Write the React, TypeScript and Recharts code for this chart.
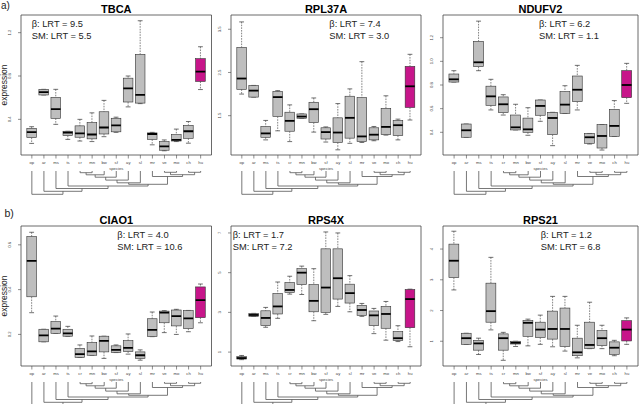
import React from 'react';
import { ComposedChart, Bar, XAxis, YAxis, ReferenceArea, ReferenceLine } from 'recharts';

// ---------- data ----------
const SPECIES = ['op', 'ar', 'ms', 'ts', 'cr', 'mn', 'bw', 'sf', 'ay', 'sl', 'mr', 've', 'mo', 'ch', 'hu'];
const HIGHLIGHT = 'hu';
const GENES = ['TBCA', 'RPL37A', 'NDUFV2', 'CIAO1', 'RPS4X', 'RPS21'];
const BETA_LRT = ['9.5', '7.4', '6.2', '4.0', '1.7', '1.2'];
const SM_LRT = ['5.5', '3.0', '1.1', '10.6', '7.2', '6.8'];

// five-number summaries [min, q1, median, q3, max] per species
const TBCA = [
  [0.178, 0.231, 0.283, 0.317, 0.332], [0.625, 0.625, 0.652, 0.677, 0.677], [0.354, 0.409, 0.495, 0.603, 0.677],
  [0.215, 0.25, 0.278, 0.29, 0.29], [0.2, 0.235, 0.27, 0.34, 0.4], [0.195, 0.22, 0.26, 0.37, 0.46],
  [0.24, 0.265, 0.325, 0.47, 0.575], [0.28, 0.285, 0.345, 0.41, 0.42], [0.515, 0.56, 0.685, 0.78, 0.8],
  [0.545, 0.55, 0.625, 1.0, 1.31], [0.165, 0.215, 0.265, 0.275, 0.28], [0.11, 0.115, 0.15, 0.195, 0.21],
  [0.195, 0.2, 0.21, 0.26, 0.31], [0.18, 0.225, 0.29, 0.345, 0.38], [0.675, 0.75, 0.84, 0.96, 1.07],
];
const RPL37A = [
  [2.0, 2.11, 2.36, 3.08, 3.67], [1.93, 1.93, 2.08, 2.2, 2.2], [0.94, 1.0, 1.09, 1.25, 1.39],
  [1.15, 1.48, 1.93, 2.06, 2.08], [0.9, 1.14, 1.38, 1.58, 1.75], [1.44, 1.44, 1.48, 1.54, 1.54],
  [1.12, 1.34, 1.65, 1.81, 1.91], [0.89, 0.96, 1.12, 1.22, 1.24], [0.71, 0.88, 1.11, 1.45, 1.78],
  [0.86, 0.98, 1.45, 1.95, 2.12], [0.88, 0.9, 1.02, 1.92, 2.75], [0.92, 0.94, 1.06, 1.22, 1.25],
  [1.05, 1.06, 1.24, 1.67, 1.96], [0.94, 1.04, 1.28, 1.39, 1.42], [1.4, 1.69, 2.18, 2.64, 2.92],
];
const NDUFV2 = [
  [0.825, 0.825, 0.848, 0.893, 0.921], [0.358, 0.358, 0.417, 0.47, 0.47], [0.921, 0.955, 0.992, 1.169, 1.34],
  [0.589, 0.628, 0.704, 0.79, 0.848], [0.546, 0.566, 0.637, 0.699, 0.718], [0.42, 0.42, 0.442, 0.546, 0.637],
  [0.375, 0.4, 0.425, 0.52, 0.608], [0.493, 0.544, 0.623, 0.673, 0.673], [0.287, 0.38, 0.521, 0.569, 0.569],
  [0.56, 0.56, 0.634, 0.744, 0.794], [0.589, 0.659, 0.76, 0.876, 0.966], [0.301, 0.307, 0.358, 0.39, 0.39],
  [0.25, 0.267, 0.369, 0.465, 0.465], [0.366, 0.366, 0.454, 0.594, 0.668], [0.645, 0.693, 0.8, 0.921, 0.983],
];
const CIAO1 = [
  [0.297, 0.368, 0.528, 0.637, 0.656], [0.167, 0.167, 0.196, 0.223, 0.223], [0.205, 0.205, 0.226, 0.257, 0.282],
  [0.192, 0.192, 0.205, 0.223, 0.236], [0.097, 0.097, 0.112, 0.138, 0.153], [0.107, 0.107, 0.124, 0.164, 0.193],
  [0.093, 0.122, 0.171, 0.192, 0.192], [0.119, 0.119, 0.131, 0.149, 0.153], [0.112, 0.124, 0.14, 0.172, 0.202],
  [0.085, 0.093, 0.107, 0.122, 0.131], [0.19, 0.19, 0.22, 0.27, 0.3], [0.208, 0.252, 0.297, 0.304, 0.306],
  [0.2, 0.238, 0.282, 0.309, 0.312], [0.212, 0.226, 0.272, 0.307, 0.307], [0.252, 0.275, 0.353, 0.412, 0.425],
];
const RPS4X = [
  [0.62, 0.65, 0.7, 0.77, 0.83], [2.8, 2.8, 2.87, 2.95, 2.95], [2.25, 2.33, 2.72, 3.08, 3.25],
  [2.7, 2.92, 3.3, 3.95, 4.53], [3.92, 4.0, 4.13, 4.5, 4.82], [3.9, 4.4, 5.0, 5.2, 5.33],
  [2.58, 3.03, 3.58, 4.4, 5.2], [2.9, 3.0, 4.25, 6.2, 7.05], [3.3, 3.67, 4.72, 6.2, 7.0],
  [3.03, 3.47, 3.97, 4.42, 4.85], [2.8, 2.85, 3.12, 3.35, 3.45], [1.93, 2.33, 2.85, 3.07, 3.2],
  [1.6, 2.2, 2.92, 3.3, 3.55], [1.53, 1.58, 1.7, 2.03, 2.33], [1.27, 2.23, 3.67, 4.15, 4.17],
];
const RPS21 = [
  [2.67, 3.07, 3.62, 4.16, 4.58], [0.9, 0.9, 1.1, 1.26, 1.26], [0.57, 0.71, 0.93, 1.03, 1.1],
  [1.37, 1.62, 1.98, 2.89, 3.73], [0.38, 0.71, 1.1, 1.24, 1.29], [0.83, 0.91, 0.95, 1.0, 1.0],
  [0.85, 1.16, 1.6, 1.67, 1.72], [0.9, 1.12, 1.38, 1.62, 1.85], [0.82, 1.07, 1.4, 1.98, 2.46],
  [0.68, 0.83, 1.4, 2.08, 2.46], [0.46, 0.53, 0.64, 1.1, 1.52], [0.76, 0.76, 0.88, 1.62, 2.27],
  [0.76, 0.86, 1.1, 1.35, 1.52], [0.53, 0.57, 0.79, 0.98, 1.03], [0.9, 1.01, 1.38, 1.67, 1.76],
];
const STATS = [TBCA, RPL37A, NDUFV2, CIAO1, RPS4X, RPS21];

const Y_DOMAINS = [[0.071, 1.363], [0.59, 3.83], [0.208, 1.392], [0.059, 0.684], [0.3, 7.35], [0.195, 4.75]];
const Y_TICKS = [
  [0.2, 0.4, 0.6, 0.8, 1.0, 1.2],
  [1.0, 1.5, 2.0, 2.5, 3.0, 3.5],
  [0.4, 0.6, 0.8, 1.0, 1.2],
  [0.1, 0.2, 0.3, 0.4, 0.5, 0.6],
  [1, 2, 3, 4, 5, 6, 7],
  [1, 2, 3, 4],
];
const Y_TICK_LABELS = [
  ['0.2', '0.4', '0.6', '0.8', '1.0', '1.2'],
  ['1.0', '1.5', '2.0', '2.5', '3.0', '3.5'],
  ['0.4', '0.6', '0.8', '1.0', '1.2'],
  ['0.1', '0.2', '0.3', '0.4', '0.5', '0.6'],
  ['1', '2', '3', '4', '5', '6', '7'],
  ['1', '2', '3', '4'],
];

// phylogeny: internal nodes (children a, b) with branch depth below the tips
const TREE_NODES = [
  { id: 'n1', a: 'cr', b: 'mn', h: 1.7 },
  { id: 'n2', a: 'n1', b: 'bw', h: 3.8 },
  { id: 'n3', a: 'n2', b: 'sf', h: 6.2 },
  { id: 'n4', a: 'n3', b: 'ay', h: 9.1 },
  { id: 'n5', a: 'n4', b: 'sl', h: 11.8 },
  { id: 'n6', a: 've', b: 'mo', h: 1.3 },
  { id: 'n7', a: 'ch', b: 'hu', h: 1.3 },
  { id: 'n8', a: 'n6', b: 'n7', h: 3.7 },
  { id: 'n9', a: 'mr', b: 'n8', h: 5.5 },
  { id: 'n10', a: 'n5', b: 'n9', h: 13.3 },
  { id: 'n11', a: 'ts', b: 'n10', h: 15.0 },
  { id: 'n12', a: 'ms', b: 'n11', h: 17.5 },
  { id: 'n13', a: 'ar', b: 'n12', h: 20.3 },
  { id: 'n14', a: 'op', b: 'n13', h: 23.3 },
];

// ---------- layout / style ----------
const COLS = [
  { left: 21, width: 190.5 },
  { left: 231, width: 190 },
  { left: 443, width: 195 },
];
const ROWS = [{ top: 15 }, { top: 226 }];
const ANN_X = [31.7, 329.3, 539, 117.3, 232.7, 540.7];
const BOX_H = 140;
const Y_AXIS_W = 21;
const X_AXIS_H = 16;
const X_PAD = 0.4;
const X_DOMAIN = [0.5 - X_PAD, SPECIES.length + 0.5 + X_PAD];
const X_TICKS = SPECIES.map((_, i) => i + 1);
const TREE_GAP = 15.5;
const TREE_DEPTH = 25;
const FONT = 'Liberation Sans, Arial, Helvetica, sans-serif';
const GRAY = '#BEBEBE';
const PINK = '#C7158A';
const INK = '#333';

const BoxShape = (props: any) => {
  const { x, y, width, height, payload } = props;
  if (x == null || y == null || !payload) return null;
  const top = height >= 0 ? y : y + height;
  const h = Math.abs(height);
  const { min, q1, med, q3, max } = payload;
  const span = max - min;
  const py = (v: number) => (span > 0 ? top + (h * (max - v)) / span : top);
  const cx = x + width / 2;
  const fill = payload.sp === HIGHLIGHT ? PINK : GRAY;
  return (
    <g>
      <line x1={cx} x2={cx} y1={py(max)} y2={py(q3)} stroke={INK} strokeWidth={0.6} strokeDasharray="1.6 1.1" />
      <line x1={cx} x2={cx} y1={py(q1)} y2={py(min)} stroke={INK} strokeWidth={0.6} strokeDasharray="1.6 1.1" />
      <line x1={cx - width / 4} x2={cx + width / 4} y1={py(max)} y2={py(max)} stroke={INK} strokeWidth={0.7} />
      <line x1={cx - width / 4} x2={cx + width / 4} y1={py(min)} y2={py(min)} stroke={INK} strokeWidth={0.7} />
      <rect x={x} y={py(q3)} width={width} height={Math.max(0.5, py(q1) - py(q3))} fill={fill} stroke={INK} strokeWidth={0.6} />
      <line x1={x} x2={x + width} y1={py(med)} y2={py(med)} stroke="#000" strokeWidth={1.8} />
    </g>
  );
};

const XTick = (props: any) => {
  const { x, y, payload } = props;
  return (
    <text x={x} y={y + 3.4} textAnchor="middle" fontSize={4.2} fill="#444" fontFamily={FONT}>
      {SPECIES[payload.value - 1]}
    </text>
  );
};

const makeYTick = (ticks: number[], labels: string[]) => (props: any) => {
  const { x, y, payload } = props;
  const k = ticks.indexOf(payload.value);
  return (
    <text x={x} y={y} transform={`rotate(-90 ${x} ${y})`} textAnchor="middle" fontSize={4.2} fill="#444" fontFamily={FONT}>
      {k >= 0 ? labels[k] : String(payload.value)}
    </text>
  );
};

const rangeKey = (d: any) => [d.min, d.max];

function Panel({ p }: { p: number }) {
  const col = COLS[p % 3];
  const row = ROWS[Math.floor(p / 3)];
  const stats = STATS[p];
  const data = SPECIES.map((s, i) => {
    const [min, q1, med, q3, max] = stats[i];
    return { idx: i + 1, sp: s, min, q1, med, q3, max };
  });
  const chartW = Y_AXIS_W + col.width + 3;
  const chartH = 15 + BOX_H + X_AXIS_H + 2;
  const barSize = (0.8 * col.width) / (X_DOMAIN[1] - X_DOMAIN[0]);
  const yDomain = Y_DOMAINS[p];
  return (
    <div style={{ position: 'absolute', left: col.left - Y_AXIS_W, top: row.top - 15 }}>
      <ComposedChart width={chartW} height={chartH} data={data} margin={{ top: 15, right: 3, left: 0, bottom: 2 }}>
        <XAxis
          type="number"
          dataKey="idx"
          domain={X_DOMAIN}
          ticks={X_TICKS}
          interval={0}
          allowDataOverflow
          height={X_AXIS_H}
          axisLine={false}
          tickSize={3.5}
          tickMargin={2}
          tickLine={{ stroke: '#444', strokeWidth: 0.6 }}
          tick={<XTick />}
          label={{ value: 'species', position: 'insideBottom', offset: 1, fontSize: 4.2, fill: '#444', fontFamily: FONT }}
        />
        <YAxis
          type="number"
          domain={yDomain}
          ticks={Y_TICKS[p]}
          allowDataOverflow
          width={Y_AXIS_W}
          axisLine={false}
          tickSize={3}
          tickMargin={7}
          tickLine={{ stroke: '#444', strokeWidth: 0.6 }}
          tick={makeYTick(Y_TICKS[p], Y_TICK_LABELS[p])}
        />
        <Bar dataKey={rangeKey} barSize={barSize} isAnimationActive={false} shape={<BoxShape />} />
        <ReferenceArea
          x1={X_DOMAIN[0]}
          x2={X_DOMAIN[1]}
          y1={yDomain[0]}
          y2={yDomain[1]}
          fill="none"
          fillOpacity={0}
          stroke="#444"
          strokeWidth={0.8}
          ifOverflow="visible"
        />
      </ComposedChart>
    </div>
  );
}

function Tree({ p }: { p: number }) {
  const col = COLS[p % 3];
  const row = ROWS[Math.floor(p / 3)];
  const pos: Record<string, { x: number; h: number }> = {};
  SPECIES.forEach((s, i) => (pos[s] = { x: i + 1, h: 0 }));
  const segs: number[][] = [];
  TREE_NODES.forEach((n) => {
    const a = pos[n.a];
    const b = pos[n.b];
    segs.push([a.x, a.h, a.x, n.h]);
    segs.push([b.x, b.h, b.x, n.h]);
    segs.push([a.x, n.h, b.x, n.h]);
    pos[n.id] = { x: (a.x + b.x) / 2, h: n.h };
  });
  const tips = SPECIES.map((_, i) => ({ idx: i + 1, d: 0 }));
  return (
    <div style={{ position: 'absolute', left: col.left, top: row.top + BOX_H + TREE_GAP }}>
      <ComposedChart width={col.width} height={TREE_DEPTH} data={tips} margin={{ top: 0, right: 0, left: 0, bottom: 0 }}>
        <XAxis type="number" dataKey="idx" domain={X_DOMAIN} allowDataOverflow hide />
        <YAxis type="number" dataKey="d" domain={[0, TREE_DEPTH]} allowDataOverflow reversed hide />
        {segs.map((s, k) => (
          <ReferenceLine
            key={k}
            segment={[{ x: s[0], y: s[1] }, { x: s[2], y: s[3] }]}
            stroke="#555"
            strokeWidth={0.8}
            ifOverflow="visible"
          />
        ))}
      </ComposedChart>
    </div>
  );
}

export default function App() {
  const panels = [0, 1, 2, 3, 4, 5];
  return (
    <div style={{ position: 'absolute', left: 0, top: 0, width: 640, height: 404, overflow: 'hidden', background: '#fff' }}>
      {panels.map((p) => (
        <Panel key={'p' + p} p={p} />
      ))}
      {panels.map((p) => (
        <Tree key={'t' + p} p={p} />
      ))}
      <svg width={640} height={404} style={{ position: 'absolute', left: 0, top: 0, pointerEvents: 'none' }}>
        <text x={1} y={9} fontSize={10} fontFamily={FONT} fill="#222">a)</text>
        <text x={4.5} y={216.5} fontSize={10.5} fontFamily={FONT} fill="#222">b)</text>
        {panels.map((p) => {
          const col = COLS[p % 3];
          const row = ROWS[Math.floor(p / 3)];
          return (
            <g key={'txt' + p}>
              <text x={col.left + col.width / 2} y={row.top - 1.7} textAnchor="middle" fontSize={11} fontWeight="bold" fontFamily={FONT} fill="#000">
                {GENES[p]}
              </text>
              <text x={ANN_X[p]} y={row.top + 12} fontSize={9.3} fontFamily={FONT} fill="#222">
                {'β: LRT = ' + BETA_LRT[p]}
              </text>
              <text x={ANN_X[p]} y={row.top + 23.5} fontSize={9.3} fontFamily={FONT} fill="#222">
                {'SM: LRT = ' + SM_LRT[p]}
              </text>
            </g>
          );
        })}
        {ROWS.map((row, r) => (
          <text
            key={'yl' + r}
            x={7}
            y={row.top + BOX_H / 2}
            transform={`rotate(-90 7 ${row.top + BOX_H / 2})`}
            textAnchor="middle"
            fontSize={8.5}
            fontFamily={FONT}
            fill="#222"
          >
            expression
          </text>
        ))}
      </svg>
    </div>
  );
}
